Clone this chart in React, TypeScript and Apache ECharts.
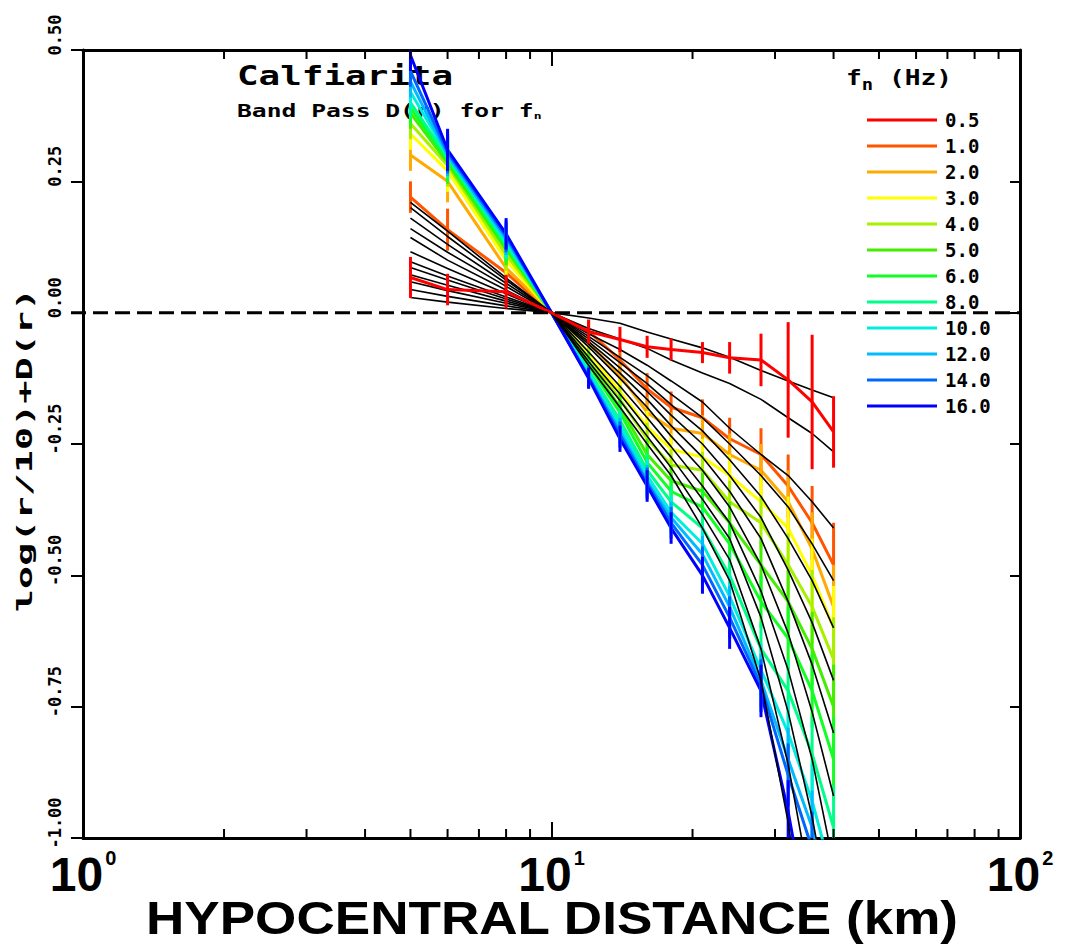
import React, { useEffect, useRef } from "react";
import * as echarts from "echarts";

// Hypocentral distances (km) of the distance bins
const distances = [5, 6, 8, 10, 12, 14, 16, 18, 21, 24, 28, 32, 36, 40];

// Legend labels (central frequency, Hz) and colours
const freqLabels = ["0.5", "1.0", "2.0", "3.0", "4.0", "5.0", "6.0", "8.0", "10.0", "12.0", "14.0", "16.0"];
const freqColors = ["#ff0000", "#ff5500", "#ffaa00", "#ffff00", "#a6f000", "#44ee00", "#11ff22", "#00ff88", "#00eedd", "#00bbff", "#0066ff", "#0000ff"];

// Observed log(r/10)+D(r) per frequency
const obs05 = [0.067, 0.044, 0.04, 0, -0.036, -0.051, -0.065, -0.07, -0.076, -0.086, -0.09, -0.128, -0.17, -0.227];
const obs1 = [0.22, 0.158, 0.076, 0, -0.035, -0.09, -0.145, -0.18, -0.2, -0.24, -0.27, -0.33, -0.4, -0.48];
const obs2 = [0.3, 0.25, 0.085, 0, -0.057, -0.12, -0.19, -0.22, -0.23, -0.27, -0.3, -0.36, -0.45, -0.56];
const obs3 = [0.34, 0.27, 0.1, 0, -0.076, -0.15, -0.217, -0.26, -0.275, -0.31, -0.36, -0.41, -0.5, -0.6];
const obs4 = [0.36, 0.28, 0.11, 0, -0.085, -0.165, -0.24, -0.29, -0.3, -0.36, -0.4, -0.48, -0.56, -0.66];
const obs5 = [0.38, 0.285, 0.12, 0, -0.095, -0.18, -0.27, -0.32, -0.34, -0.4, -0.48, -0.55, -0.64, -0.75];
const obs6 = [0.39, 0.29, 0.125, 0, -0.1, -0.19, -0.285, -0.34, -0.37, -0.44, -0.55, -0.62, -0.72, -0.85];
const obs8 = [0.4, 0.295, 0.13, 0, -0.11, -0.205, -0.3, -0.36, -0.41, -0.5, -0.64, -0.72, -0.84, -0.98];
const obs10 = [0.42, 0.3, 0.135, 0, -0.115, -0.215, -0.31, -0.38, -0.44, -0.54, -0.68, -0.8, -0.93, -1.08];
const obs12 = [0.44, 0.3, 0.14, 0, -0.12, -0.225, -0.32, -0.39, -0.46, -0.56, -0.7, -0.85, -0.98, -1.15];
const obs14 = [0.46, 0.305, 0.145, 0, -0.123, -0.232, -0.325, -0.4, -0.48, -0.58, -0.71, -0.88, -1.02, -1.2];
const obs16 = [0.49, 0.31, 0.15, 0, -0.125, -0.24, -0.33, -0.41, -0.5, -0.6, -0.72, -0.95, -1.2, -1.4];
const observed = [obs05, obs1, obs2, obs3, obs4, obs5, obs6, obs8, obs10, obs12, obs14, obs16];

// Error half-widths
const redErr = [0.039, 0.03, 0.032, 0, 0.023, 0.024, 0.021, 0.021, 0.02, 0.03, 0.05, 0.11, 0.128, 0.068];
const otherErr = [0.03, 0.04, 0.03, 0, 0.02, 0.025, 0.03, 0.03, 0.035, 0.04, 0.05, 0.06, 0.07, 0.08];

// Model curves (black)
const mod1 = [0.029, 0.02, 0.008, 0, -0.01, -0.02, -0.037, -0.05, -0.067, -0.085, -0.11, -0.13, -0.147, -0.162];
const mod2 = [0.044, 0.031, 0.013, 0, -0.03, -0.05, -0.068, -0.09, -0.115, -0.135, -0.165, -0.2, -0.23, -0.265];
const mod3 = [0.059, 0.042, 0.018, 0, -0.04, -0.07, -0.1, -0.13, -0.17, -0.22, -0.27, -0.31, -0.36, -0.41];
const mod4 = [0.072, 0.052, 0.022, 0, -0.045, -0.085, -0.12, -0.155, -0.2, -0.25, -0.31, -0.37, -0.44, -0.51];
const mod5 = [0.086, 0.062, 0.026, 0, -0.05, -0.095, -0.135, -0.175, -0.225, -0.28, -0.35, -0.43, -0.51, -0.6];
const mod6 = [0.097, 0.07, 0.03, 0, -0.055, -0.105, -0.15, -0.195, -0.25, -0.31, -0.39, -0.49, -0.59, -0.7];
const mod7 = [0.116, 0.084, 0.036, 0, -0.06, -0.115, -0.165, -0.215, -0.275, -0.34, -0.43, -0.55, -0.67, -0.8];
const mod8 = [0.143, 0.1, 0.043, 0, -0.065, -0.125, -0.18, -0.235, -0.3, -0.37, -0.48, -0.61, -0.76, -0.92];
const mod9 = [0.16, 0.115, 0.05, 0, -0.075, -0.14, -0.2, -0.255, -0.33, -0.4, -0.53, -0.68, -0.85, -1.05];
const mod10 = [0.18, 0.13, 0.056, 0, -0.085, -0.155, -0.22, -0.275, -0.355, -0.43, -0.58, -0.76, -0.96, -1.18];
const mod11 = [0.2, 0.145, 0.062, 0, -0.093, -0.167, -0.235, -0.295, -0.385, -0.47, -0.64, -0.86, -1.11, -1.35];
const mod12 = [0.21, 0.155, 0.066, 0, -0.1, -0.18, -0.25, -0.31, -0.41, -0.51, -0.7, -0.97, -1.3, -1.6];
const models = [mod1, mod2, mod3, mod4, mod5, mod6, mod7, mod8, mod9, mod10, mod11, mod12];

// Log-axis minor tick positions
const minorTicks = [2, 3, 4, 5, 6, 7, 8, 9, 20, 30, 40, 50, 60, 70, 80, 90];
// Reference (dashed) line level
const zeroLine = [[1, 0], [100, 0]];

const MONO = '"DejaVu Sans Mono", monospace';
const SANS = '"Liberation Sans", Arial, sans-serif';

export default function App() {
  const ref = useRef<HTMLDivElement>(null);

  useEffect(() => {
    if (!ref.current) return;
    const chart = echarts.init(ref.current, undefined, { renderer: "svg" });

    const pair = (vals: number[]) => distances.map((r, i) => [r, vals[i]]);

    const colorLines = observed.slice(1).map((vals, k) => ({
      name: freqLabels[k + 1],
      type: "line",
      data: pair(vals),
      symbol: "none",
      color: freqColors[k + 1],
      lineStyle: { color: freqColors[k + 1], width: 3 },
      z: 2,
      silent: true,
    }));

    const errData: number[][] = [];
    observed.forEach((vals, fi) => {
      if (fi === 0) return;
      distances.forEach((r, j) => {
        const e = otherErr[j];
        if (e > 0) errData.push([r, vals[j] - e, vals[j] + e, fi]);
      });
    });
    const redErrData: number[][] = [];
    distances.forEach((r, j) => {
      const e = redErr[j];
      if (e > 0) redErrData.push([r, obs05[j] - e, obs05[j] + e, 0]);
    });

    const errRender = (params: any, api: any) => {
      const r = api.value(0);
      const p1 = api.coord([r, api.value(1)]);
      const p2 = api.coord([r, api.value(2)]);
      return {
        type: "line",
        shape: { x1: p1[0], y1: p1[1], x2: p2[0], y2: p2[1] },
        style: { stroke: freqColors[api.value(3)], lineWidth: 3 },
      };
    };

    const blackLines = models.map((vals, k) => ({
      name: "model " + freqLabels[k],
      type: "line",
      data: pair(vals),
      symbol: "none",
      color: "#000",
      lineStyle: { color: "#000", width: 1.6 },
      z: 4,
      silent: true,
    }));

    const option: any = {
      animation: false,
      backgroundColor: "#ffffff",
      grid: { left: 83, right: 65, top: 50, bottom: 109, containLabel: false },
      xAxis: [
        {
          type: "log",
          logBase: 10,
          min: 1,
          max: 100,
          position: "bottom",
          axisLine: { show: true, onZero: false, lineStyle: { color: "#000", width: 3 } },
          axisTick: { show: true, inside: true, length: 16, lineStyle: { color: "#000", width: 2 } },
          splitLine: { show: false },
          axisLabel: {
            margin: 10,
            formatter: (v: number) => `{b|10}{s|${Math.round(Math.log10(v))}}`,
            rich: {
              b: { fontFamily: SANS, fontWeight: "bold", fontSize: 48, lineHeight: 52, color: "#000" },
              s: { fontFamily: SANS, fontWeight: "bold", fontSize: 20, lineHeight: 52, verticalAlign: "top", color: "#000", padding: [0, 0, 0, 2] },
            },
          },
        },
        {
          type: "log",
          logBase: 10,
          min: 1,
          max: 100,
          position: "top",
          axisLine: { show: true, onZero: false, lineStyle: { color: "#000", width: 3 } },
          axisTick: { show: true, inside: true, length: 16, lineStyle: { color: "#000", width: 2 } },
          splitLine: { show: false },
          axisLabel: { show: false },
        },
      ],
      yAxis: [
        {
          type: "value",
          min: -1,
          max: 0.5,
          interval: 0.25,
          position: "left",
          axisLine: { show: true, onZero: false, lineStyle: { color: "#000", width: 3 } },
          axisTick: { show: true, inside: false, length: 12, lineStyle: { color: "#000", width: 2 } },
          splitLine: { show: false },
          axisLabel: {
            rotate: 90,
            margin: 20,
            padding: [0, 0, 0, 30],
            formatter: (v: number) => v.toFixed(2),
            fontFamily: MONO,
            fontWeight: "bold",
            fontSize: 17,
            color: "#000",
          },
        },
        {
          type: "value",
          min: -1,
          max: 0.5,
          interval: 0.25,
          position: "right",
          axisLine: { show: true, onZero: false, lineStyle: { color: "#000", width: 3 } },
          axisTick: { show: true, inside: true, length: 10, lineStyle: { color: "#000", width: 2 } },
          splitLine: { show: false },
          axisLabel: { show: false },
        },
      ],
      legend: {
        data: freqLabels,
        orient: "vertical",
        left: 862,
        top: 105,
        itemWidth: 70,
        itemHeight: 3,
        itemGap: 6,
        icon: "rect",
        selectedMode: false,
        textStyle: { fontFamily: MONO, fontWeight: "bold", fontSize: 19, lineHeight: 20, color: "#000", padding: [0, 0, 0, 3] },
      },
      graphic: [
        {
          type: "text",
          x: 237,
          y: 62,
          scaleX: 1.33,
          silent: true,
          style: { text: "Calfiarita", fontFamily: MONO, fontWeight: "bold", fontSize: 27, fill: "#000", verticalAlign: "top" },
        },
        {
          type: "text",
          x: 237,
          y: 101,
          scaleX: 1.45,
          silent: true,
          style: {
            text: "{a|Band Pass D(r) for f}{s|n}",
            verticalAlign: "top",
            rich: {
              a: { fontFamily: MONO, fontWeight: "bold", fontSize: 17, lineHeight: 20, fill: "#000" },
              s: { fontFamily: MONO, fontWeight: "bold", fontSize: 9, lineHeight: 20, verticalAlign: "bottom", fill: "#000" },
            },
          },
        },
        {
          type: "text",
          x: 846,
          y: 64,
          scaleX: 1.25,
          silent: true,
          style: {
            text: "{a|f}{s|n}{a| (Hz)}",
            verticalAlign: "top",
            rich: {
              a: { fontFamily: MONO, fontWeight: "bold", fontSize: 21, lineHeight: 28, fill: "#000" },
              s: { fontFamily: MONO, fontWeight: "bold", fontSize: 15, lineHeight: 28, verticalAlign: "bottom", fill: "#000" },
            },
          },
        },
        {
          type: "text",
          x: 24,
          y: 450,
          rotation: Math.PI / 2,
          scaleX: 1.75,
          silent: true,
          style: { text: "log(r/10)+D(r)", fontFamily: MONO, fontWeight: "bold", fontSize: 22, fill: "#000", align: "center", verticalAlign: "middle" },
        },
        {
          type: "text",
          x: 552,
          y: 918,
          scaleX: 1.13,
          silent: true,
          style: { text: "HYPOCENTRAL DISTANCE (km)", fontFamily: SANS, fontWeight: "bold", fontSize: 47, fill: "#000", align: "center", verticalAlign: "middle" },
        },
      ],
      series: [
        ...colorLines,
        {
          name: "errors",
          type: "custom",
          renderItem: errRender,
          data: errData,
          encode: { x: 0, y: [1, 2] },
          clip: true,
          z: 3,
          silent: true,
        },
        ...blackLines,
        {
          name: freqLabels[0],
          type: "line",
          data: pair(obs05),
          symbol: "none",
          color: freqColors[0],
          lineStyle: { color: freqColors[0], width: 3 },
          z: 5,
          silent: true,
        },
        {
          name: "red errors",
          type: "custom",
          renderItem: errRender,
          data: redErrData,
          encode: { x: 0, y: [1, 2] },
          clip: true,
          z: 6,
          silent: true,
        },
        {
          name: "zero",
          type: "custom",
          data: [zeroLine[0].concat(zeroLine[1])],
          encode: { x: [0, 2], y: [1, 3] },
          clip: false,
          z: 7,
          silent: true,
          renderItem: (params: any, api: any) => {
            const a = api.coord([api.value(0), api.value(1)]);
            const b = api.coord([api.value(2), api.value(3)]);
            return {
              type: "line",
              shape: { x1: a[0] - 12, y1: a[1], x2: b[0], y2: b[1] },
              style: { stroke: "#000", lineWidth: 3, lineDash: [15, 7] },
            };
          },
        },
        {
          name: "minor ticks",
          type: "custom",
          clip: false,
          silent: true,
          z: 8,
          data: minorTicks.map((v) => [v]),
          encode: { x: 0 },
          renderItem: (params: any, api: any) => {
            const v = api.value(0);
            const b = api.coord([v, -1]);
            const t = api.coord([v, 0.5]);
            return {
              type: "group",
              children: [
                { type: "line", shape: { x1: b[0], y1: b[1], x2: b[0], y2: b[1] - 9 }, style: { stroke: "#000", lineWidth: 2 } },
                { type: "line", shape: { x1: t[0], y1: t[1], x2: t[0], y2: t[1] + 9 }, style: { stroke: "#000", lineWidth: 2 } },
              ],
            };
          },
        },
      ],
    };

    chart.setOption(option);
    return () => chart.dispose();
  }, []);

  return (
    <div
      ref={ref}
      style={{ position: "absolute", left: 0, top: 0, width: 1085, height: 947, background: "#fff" }}
    />
  );
}
